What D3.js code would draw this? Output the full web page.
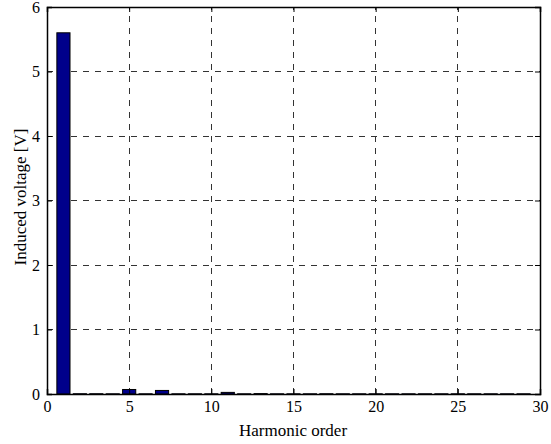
<!DOCTYPE html>
<html><head><meta charset="utf-8">
<script src="https://cdn.jsdelivr.net/npm/d3@7"></script>
<style>body{margin:0;background:#fff}svg{display:block}text{font-family:'Liberation Serif','Times New Roman',serif}</style>
</head><body>
<svg id="c" width="551" height="444"></svg>
<script>
const harmonics = d3.range(1, 30);
const voltages = [5.6,0.004,0.004,0.003,0.07,0.003,0.055,0.003,0.003,0.003,0.025,0.003,0.006,0.003,0.003,0.003,0.004,0.003,0.003,0.003,0.003,0.003,0.003,0.003,0.003,0.003,0.003,0.003,0.003];
const xTicks = [0,5,10,15,20,25,30];
const yTicks = [0,1,2,3,4,5,6];

const m = {l:47, r:11, t:7, b:50};
const W = 551, H = 444;
const svg = d3.select('#c');
const x = d3.scaleLinear().domain([0,30]).range([m.l, W-m.r]);
const y = d3.scaleLinear().domain([0,6]).range([H-m.b, m.t]);
const font = "'Liberation Serif','Times New Roman',serif";

// grid
const g = svg.append('g');
g.selectAll('.gx').data(xTicks.slice(1,-1)).enter().append('line')
 .attr('x1', d=>x(d)).attr('x2', d=>x(d)).attr('y1', y(0)).attr('y2', y(6))
 .attr('stroke','#333').attr('stroke-width',1).attr('stroke-dasharray','6,6').attr('shape-rendering','crispEdges');
g.selectAll('.gy').data(yTicks.slice(1,-1)).enter().append('line')
 .attr('y1', d=>y(d)).attr('y2', d=>y(d)).attr('x1', x(0)).attr('x2', x(30))
 .attr('stroke','#333').attr('stroke-width',1).attr('stroke-dasharray','6,6').attr('shape-rendering','crispEdges');

// bars
const bw = (x(0.8)-x(0));
svg.append('g').selectAll('rect').data(harmonics).enter().append('rect')
 .attr('x', (d)=>x(d)-bw/2).attr('width', bw)
 .attr('y', (d,i)=>y(voltages[i])).attr('height', (d,i)=>y(0)-y(voltages[i]))
 .attr('fill','#00008b').attr('stroke','#000').attr('stroke-width',1);

// axes
const ax = d3.axisBottom(x).tickValues(xTicks).tickSize(-5).tickPadding(7).tickFormat(d3.format('d'));
const ay = d3.axisLeft(y).tickValues(yTicks).tickSize(-5).tickPadding(7).tickFormat(d3.format('d'));
const axT = d3.axisTop(x).tickValues(xTicks).tickSize(-5).tickFormat('');
const ayR = d3.axisRight(y).tickValues(yTicks).tickSize(-5).tickFormat('');
function style(sel){
  sel.attr('font-family', null);
  sel.select('.domain').attr('stroke','#000').attr('stroke-width',1.5);
  sel.selectAll('.tick line').attr('stroke','#000');
  sel.selectAll('text').style('font-family',font).attr('font-size',16).attr('fill','#000');
}
svg.append('g').attr('transform',`translate(0,${y(0)})`).call(ax).call(style);
svg.append('g').attr('transform',`translate(${x(0)},0)`).call(ay).call(style);
svg.append('g').attr('transform',`translate(0,${y(6)})`).call(axT).call(style);
svg.append('g').attr('transform',`translate(${x(30)},0)`).call(ayR).call(style);

svg.append('text').attr('x',293).attr('y',436).attr('text-anchor','middle')
 .style('font-family',font).attr('font-size',17).text('Harmonic order');
svg.append('text').attr('transform',`translate(26,197) rotate(-90)`).attr('text-anchor','middle')
 .style('font-family',font).attr('font-size',17).text('Induced voltage [V]');
</script>
</body></html>
